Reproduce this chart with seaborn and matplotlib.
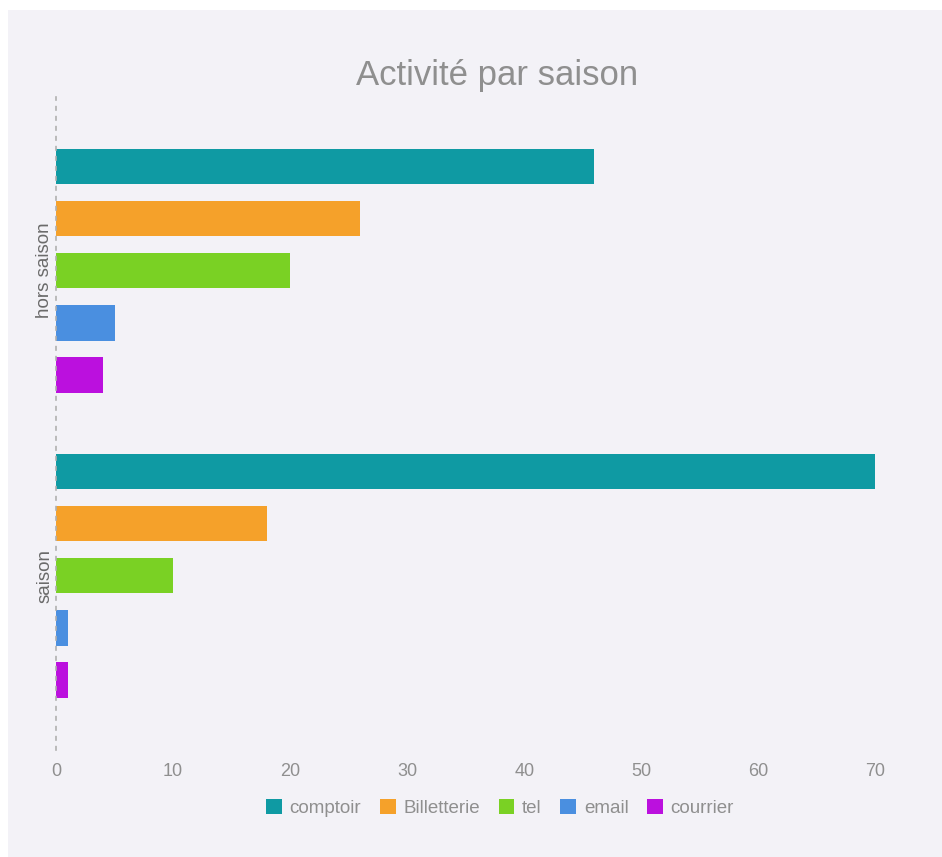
import numpy as np
import pandas as pd

import matplotlib.pyplot as plt
import seaborn as sns

from matplotlib.patches import Rectangle


# Data

saisons = ["hors saison", "saison"]

canaux = ["comptoir", "Billetterie", "tel", "email", "courrier"]

hors_saison = [46, 26, 20, 5, 4]
saison = [70, 18, 10, 1, 1]

couleurs = ["#0f9aa3", "#f5a12a", "#7ad124", "#4a8fe0", "#bb10de"]

df = pd.DataFrame({
    "saison": [saisons[0]] * len(canaux) + [saisons[1]] * len(canaux),
    "canal": canaux + canaux,
    "valeur": hors_saison + saison
})

bg = "#f3f2f7"
gris = "#8f8f8f"

sns.set_theme(style="white")
plt.rcParams["font.family"] = ["Liberation Sans", "DejaVu Sans"]

fig = plt.figure(figsize=(9.42, 8.57), dpi=100)
fig.patch.set_facecolor("white")

# Panel background
fig.patches.append(Rectangle(
    (8 / 942, 0), 1 - 8 / 942, 1 - 10 / 857,
    transform=fig.transFigure,
    facecolor=bg,
    edgecolor="none",
    zorder=-10
))

ax = fig.add_axes([56 / 942, 1 - 750 / 857, (893 - 56) / 942, (750 - 97) / 857])
ax.set_facecolor(bg)

sns.barplot(
    data=df,
    x="valeur",
    y="saison",
    hue="canal",
    hue_order=canaux,
    palette=couleurs,
    orient="h",
    width=0.853,
    gap=0.31,
    saturation=1,
    linewidth=0,
    ax=ax,
    legend=True
)

ax.set_xlim(0, 71.5)
ax.set_ylim(1.572, -0.569)

for s in ["top", "right", "bottom"]:
    ax.spines[s].set_visible(False)

ax.spines["left"].set_linestyle((0, (2, 4)))
ax.spines["left"].set_color("#b0b0b0")
ax.spines["left"].set_linewidth(1.2)

ax.set_xticks(np.arange(0, 71, 10))
ax.tick_params(axis="x", colors=gris, labelsize=13, length=0, pad=9)
ax.tick_params(axis="y", colors="#6a6a6a", labelsize=13.5, length=0, pad=2)

for lbl in ax.get_yticklabels():
    lbl.set_rotation(90)
    lbl.set_va("center")

ax.set_xlabel("")
ax.set_ylabel("")

fig.text(
    497 / 942, 1 - 75 / 857,
    "Activité par saison",
    ha="center",
    va="center",
    fontsize=25,
    color=gris
)

ax.legend(
    loc="center",
    bbox_to_anchor=(500 / 942, 1 - 808 / 857),
    bbox_transform=fig.transFigure,
    ncol=5,
    frameon=False,
    fontsize=13.5,
    labelcolor=gris,
    handlelength=0.85,
    handleheight=0.85,
    handletextpad=0.4,
    columnspacing=1.0
)

fig.savefig("out.png", dpi=100, facecolor=fig.get_facecolor())
plt.close()
